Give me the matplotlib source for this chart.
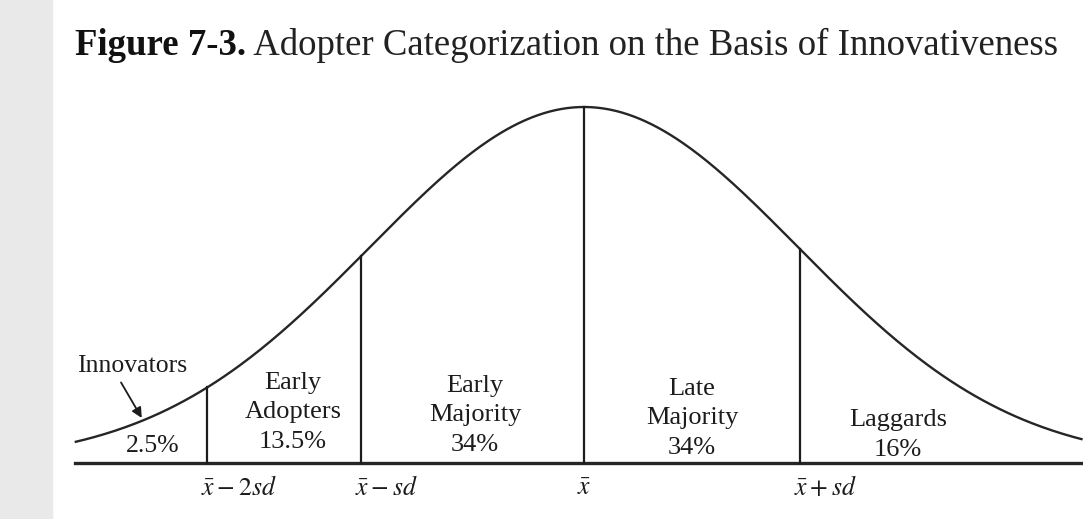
import numpy as np
import matplotlib.pyplot as plt
from matplotlib.patches import Rectangle

plt.rcParams['font.family'] = ['Liberation Serif', 'DejaVu Serif']
plt.rcParams['mathtext.fontset'] = 'stix'

##########################################################################
###   values
###   x is in sd units (mean = 0), curve height is relative to the peak
##########################################################################
z_start, z_end = -2.38, 2.33
boundaries = [-1.76, -1.04, 0.0, 1.01]   # where the dividers are drawn
tick_labels = [r'$\bar{x} - 2sd$', r'$\bar{x} - sd$', r'$\bar{x}$', r'$\bar{x} + sd$']
categories = ['Innovators', 'Early\nAdopters', 'Early\nMajority', 'Late\nMajority', 'Laggards']
shares = ['2.5%', '13.5%', '34%', '34%', '16%']

# layout (label anchors = baseline of the last line, data coords)
lab_x = [-2.369, -1.36, -0.509, 0.505, 1.467]
lab_y = [0.256, 0.042, 0.034, 0.025, 0.020]
ink = '#1c1c1c'

def bell(z):
    return np.exp(-0.5*np.asarray(z)**2)

fig = plt.figure(figsize=(10.83, 5.19), dpi=100)
fig.patches.append(Rectangle((0, 0), 52/1083, 1, transform=fig.transFigure,
                             color='#e9e9e9', zorder=0))
ax = fig.add_axes([0, 0, 1, 1])
ax.set_xlim(-584/214, (1083-584)/214)
ax.set_ylim(-(519-463)/356, 463/356)
ax.axis('off')

# the curve and the baseline
z = np.linspace(z_start, z_end, 500)
ax.plot(z, bell(z), color='#262626', lw=1.7, solid_capstyle='butt')
ax.plot([z_start, ax.get_xlim()[1]], [0, 0], color='#262626', lw=2.4)

# dividers up to the curve
for b in boundaries:
    ax.plot([b, b], [0, bell(b)], color=ink, lw=1.6)

# tick labels under the baseline
for b, t in zip(boundaries, tick_labels):
    if b == 0:
        ax.text(b, -0.09, t, ha='center', va='baseline', fontsize=18.5, color=ink)
    else:
        ax.text(b - 0.028, -0.09, t, ha='left', va='baseline', fontsize=18.5, color=ink)

# category names with their shares
ax.text(lab_x[0], lab_y[0], categories[0], ha='left', va='baseline',
        fontsize=18.5, color=ink)
ax.text(-2.014, 0.031, shares[0], ha='center', va='baseline', fontsize=18.5, color=ink)
for i in range(1, len(categories)):
    ax.text(lab_x[i], lab_y[i], categories[i] + '\n' + shares[i], ha='center',
            va='baseline', fontsize=19, color=ink, linespacing=1.45)

# arrow from "Innovators" down to the tail of the curve
ax.annotate('', xy=(-2.06, bell(-2.06)), xytext=(-2.17, 0.233),
            arrowprops=dict(arrowstyle='-|>', color=ink, lw=1.3,
                            mutation_scale=15))

# title: bold figure number, then plain text
t1 = fig.text(75/1083, 1 - 55/519, 'Figure 7-3.', fontsize=26.5, weight='bold',
              va='baseline', color='#111111')
fig.canvas.draw()
bb = t1.get_window_extent()
fig.text(bb.x1/1083, 1 - 55/519, ' Adopter Categorization on the Basis of Innovativeness',
         fontsize=26.5, va='baseline', color='#222222')

plt.savefig('out.png', dpi=100)
